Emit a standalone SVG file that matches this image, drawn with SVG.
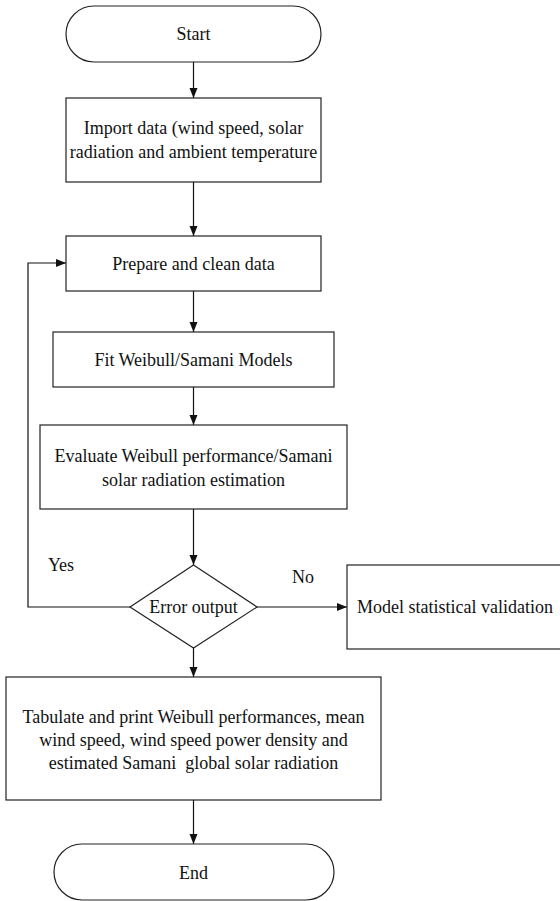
<svg xmlns="http://www.w3.org/2000/svg" width="560" height="901" viewBox="0 0 560 901">
<style>
.box{fill:#fff;stroke:#222;stroke-width:1.2}
.ln{fill:none;stroke:#111;stroke-width:1.2}
.t{font-family:"Liberation Serif","Times New Roman",serif;font-size:18px;fill:#111;text-anchor:middle;dominant-baseline:central}
</style>
<defs>
<marker id="ah" markerWidth="10" markerHeight="10" refX="10" refY="5" orient="auto" markerUnits="userSpaceOnUse">
<path d="M0,1 L10,5 L0,9 Z" fill="#111"/>
</marker>
</defs>
<rect width="560" height="901" fill="#fff"/>
<g id="connectors">
<line class="ln" x1="193.5" y1="62" x2="193.5" y2="98" marker-end="url(#ah)"/>
<line class="ln" x1="193.5" y1="182" x2="193.5" y2="236" marker-end="url(#ah)"/>
<line class="ln" x1="193.5" y1="291" x2="193.5" y2="332" marker-end="url(#ah)"/>
<line class="ln" x1="193.5" y1="387" x2="193.5" y2="425" marker-end="url(#ah)"/>
<line class="ln" x1="193.5" y1="509" x2="193.5" y2="565" marker-end="url(#ah)"/>
<line class="ln" x1="193.5" y1="648" x2="193.5" y2="677" marker-end="url(#ah)"/>
<line class="ln" x1="193.5" y1="800" x2="193.5" y2="844" marker-end="url(#ah)"/>
<polyline class="ln" points="130,607 28,607 28,263 66,263" marker-end="url(#ah)"/>
<line class="ln" x1="257" y1="607" x2="347" y2="607" marker-end="url(#ah)"/>
<text class="t" x="61" y="565">Yes</text>
<text class="t" x="303" y="577">No</text>
</g>
<g id="start">
<rect class="box" x="66" y="6" width="255" height="56" rx="28" ry="28"/>
<text class="t" x="193.5" y="34">Start</text>
</g>
<g id="import">
<rect class="box" x="66" y="98" width="255" height="84"/>
<text class="t" x="193.5" y="128">Import data (wind speed, solar</text>
<text class="t" x="193.5" y="152">radiation and ambient temperature</text>
</g>
<g id="prepare">
<rect class="box" x="66" y="236" width="255" height="55"/>
<text class="t" x="193.5" y="264">Prepare and clean data</text>
</g>
<g id="fit">
<rect class="box" x="53" y="332" width="281" height="55"/>
<text class="t" x="193.5" y="360">Fit Weibull/Samani Models</text>
</g>
<g id="evaluate">
<rect class="box" x="40" y="425" width="307" height="84"/>
<text class="t" x="193.5" y="456">Evaluate Weibull performance/Samani</text>
<text class="t" x="193.5" y="480">solar radiation estimation</text>
</g>
<g id="decision">
<polygon class="box" points="193.5,565 257,607 193.5,648 130,607"/>
<text class="t" x="193.5" y="607">Error output</text>
</g>
<g id="validation">
<rect class="box" x="347" y="565" width="220" height="84"/>
<text class="t" x="455" y="607">Model statistical validation</text>
</g>
<g id="tabulate">
<rect class="box" x="6" y="677" width="375" height="123"/>
<text class="t" x="193.5" y="717">Tabulate and print Weibull performances, mean</text>
<text class="t" x="193.5" y="740">wind speed, wind speed power density and</text>
<text class="t" x="193.5" y="763" xml:space="preserve">estimated Samani  global solar radiation</text>
</g>
<g id="end">
<rect class="box" x="54" y="844" width="280" height="56" rx="28" ry="28"/>
<text class="t" x="193.5" y="873">End</text>
</g>
</svg>
